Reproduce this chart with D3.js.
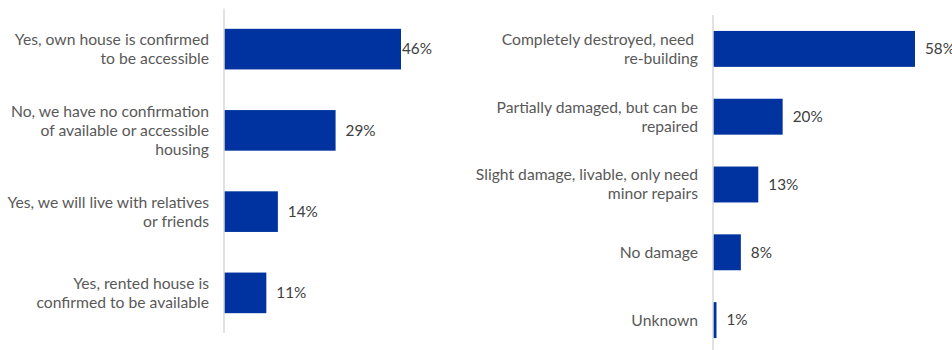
<!DOCTYPE html>
<html>
<head>
<meta charset="utf-8">
<script src="https://cdn.jsdelivr.net/npm/d3@7"></script>
<style>
  html, body { margin: 0; padding: 0; background: #fff; }
  svg { display: block; }
  text { font-family: "Lato", "Open Sans", sans-serif; }
</style>
</head>
<body>
<svg id="chart" width="952" height="350"></svg>
<script>
// Housing situation after return
const housingCategories = [
  "Yes, own house is confirmed\nto be accessible",
  "No, we have no confirmation\nof available or accessible\nhousing",
  "Yes, we will live with relatives\nor friends",
  "Yes, rented house is\nconfirmed to be available"
];
const housingValues = [46, 29, 14, 11];

// Condition of the house
const damageCategories = [
  "Completely destroyed, need \nre-building",
  "Partially damaged, but can be\nrepaired",
  "Slight damage, livable, only need\nminor repairs",
  "No damage",
  "Unknown"
];
const damageValues = [58, 20, 13, 8, 1];

const BAR = "#0033a0";
const AXIS = "#d9d9d9";
const CAT_TEXT = "#595959";
const VAL_TEXT = "#404040";
const CAT_SIZE = 15.7;
const VAL_SIZE = 15.3;
const LINE_H = 19;

const svg = d3.select("#chart");

function drawPanel(opts) {
  const { categories, values, axisX, xMaxPx, xMax, yTop, yBottom, lineBottom, padding, labelLimit } = opts;
  const g = svg.append("g");

  const y = d3.scaleBand()
    .domain(categories)
    .range([yTop, yBottom])
    .paddingInner(padding)
    .paddingOuter(padding / 2);

  const x = d3.scaleLinear()
    .domain([0, xMax])
    .range([axisX, xMaxPx]);

  const rows = categories.map((c, i) => ({ cat: c, val: values[i] }));

  g.selectAll("rect.bar")
    .data(rows)
    .join("rect")
    .attr("class", "bar")
    .attr("x", x(0))
    .attr("y", d => y(d.cat))
    .attr("width", d => Math.max(0, x(d.val) - x(0)))
    .attr("height", y.bandwidth())
    .attr("fill", BAR);

  // vertical category axis
  g.append("line")
    .attr("x1", axisX).attr("x2", axisX)
    .attr("y1", yTop).attr("y2", lineBottom)
    .attr("stroke", AXIS)
    .attr("stroke-width", 1.5);

  // category labels, right aligned next to the axis
  const labels = g.selectAll("text.cat")
    .data(rows)
    .join("text")
    .attr("class", "cat")
    .attr("text-anchor", "end")
    .attr("fill", CAT_TEXT)
    .attr("font-size", CAT_SIZE)
    .style("white-space", "pre");

  labels.each(function(d) {
    const lines = d.cat.split("\n");
    const cy = y(d.cat) + y.bandwidth() / 2;
    const first = cy - (lines.length - 1) * LINE_H / 2;
    d3.select(this).selectAll("tspan")
      .data(lines)
      .join("tspan")
      .attr("x", axisX - 15)
      .attr("y", (l, i) => first + i * LINE_H)
      .attr("dy", "0.35em")
      .text(l => l);
  });

  // value labels, kept inside the panel's plot width
  g.selectAll("text.val")
    .data(rows)
    .join("text")
    .attr("class", "val")
    .attr("x", d => Math.min(x(d.val) + 10, labelLimit))
    .attr("y", d => y(d.cat) + y.bandwidth() / 2)
    .attr("dy", "0.35em")
    .attr("fill", VAL_TEXT)
    .attr("font-size", VAL_SIZE)
    .text(d => d.val + "%");
}

drawPanel({
  categories: housingCategories,
  values: housingValues,
  axisX: 224,
  xMax: 46,
  xMaxPx: 401,
  yTop: 8.5,
  yBottom: 333.5,
  lineBottom: 333,
  padding: 0.5,
  labelLimit: 402
});

drawPanel({
  categories: damageCategories,
  values: damageValues,
  axisX: 713,
  xMax: 58,
  xMaxPx: 915,
  yTop: 15,
  yBottom: 354,
  lineBottom: 350,
  padding: 0.47,
  labelLimit: 952
});
</script>
</body>
</html>
